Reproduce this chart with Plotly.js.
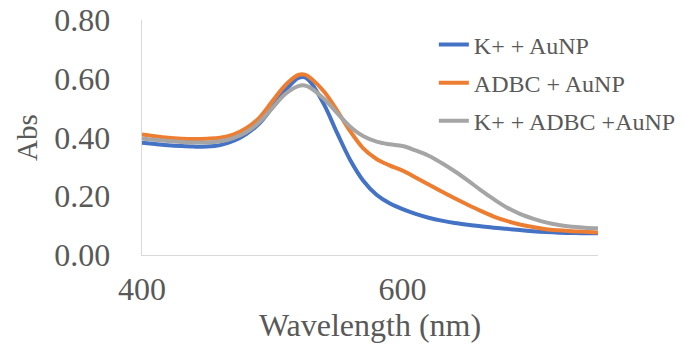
<!DOCTYPE html>
<html>
<head>
<meta charset="utf-8">
<script src="https://cdn.plot.ly/plotly-3.0.1.min.js"></script>
<style>html,body{margin:0;padding:0;background:#fff;}#chart{width:685px;height:346px;}</style>
</head>
<body>
<div id="chart"></div>
<script>
var wavelength = [400,410,420,430,440,450,460,470,480,490,500,510,520,525,530,540,550,560,570,580,590,600,610,620,630,640,650,660,670,680,690,700,710,720,730,740,750];
var kAuNP = [0.382,0.378,0.374,0.371,0.369,0.369,0.374,0.388,0.412,0.447,0.502,0.560,0.603,0.605,0.585,0.510,0.413,0.322,0.252,0.205,0.176,0.156,0.140,0.127,0.117,0.109,0.103,0.098,0.093,0.089,0.085,0.081,0.078,0.076,0.075,0.074,0.074];
var adbcAuNP = [0.410,0.404,0.399,0.396,0.395,0.396,0.399,0.410,0.432,0.467,0.523,0.578,0.613,0.614,0.600,0.555,0.490,0.420,0.362,0.327,0.305,0.287,0.264,0.240,0.216,0.193,0.171,0.150,0.131,0.116,0.104,0.095,0.088,0.084,0.081,0.079,0.077];
var kAdbcAuNP = [0.397,0.392,0.388,0.385,0.383,0.383,0.387,0.398,0.418,0.452,0.500,0.548,0.575,0.577,0.567,0.530,0.482,0.436,0.404,0.386,0.377,0.371,0.356,0.338,0.313,0.285,0.254,0.221,0.190,0.162,0.140,0.124,0.111,0.102,0.096,0.093,0.091];
var seriesNames = ["K+ + AuNP","ADBC + AuNP","K+ + ADBC +AuNP"];
var colors = ["#4472C4","#ED7D31","#A5A5A5"];
var yTicks = [0,0.2,0.4,0.6,0.8];
var xTicks = [400,600];

var font = 'Liberation Serif';
var ys = [kAuNP, adbcAuNP, kAdbcAuNP];
var traces = ys.map(function(y,i){
  return {x: wavelength, y: y, type:'scatter', mode:'lines', name: seriesNames[i],
    legendgroup: 'g'+i,
    line:{color: colors[i], width:4, shape:'spline', smoothing:1}};
});
var layout = {
  width:685, height:346,
  margin:{l:142, r:87, t:20, b:91, autoexpand:false},
  paper_bgcolor:'#fff', plot_bgcolor:'#fff',
  font:{family:font, color:'#595959', size:32},
  showlegend:true,
  legend:{x:0.64, y:0.99, xanchor:'left', yanchor:'top', font:{size:24, family:font, color:'#595959'}, bgcolor:'rgba(0,0,0,0)', tracegroupgap:4, itemwidth:30},
  xaxis:{range:[400,750], tickmode:'array', tickvals:xTicks, ticktext:xTicks.map(String), showgrid:false, zeroline:false,
    showline:true, linecolor:'#D9D9D9', linewidth:1.3, ticks:'', ticklabelstandoff:5, automargin:false,
    tickfont:{size:32, family:font, color:'#595959'},
    title:{text:'Wavelength (nm)', font:{size:32, family:font, color:'#595959'}, standoff:4}},
  yaxis:{range:[0,0.8], tickmode:'array', tickvals:yTicks, ticktext:yTicks.map(function(v){return v.toFixed(2);}), showgrid:false, zeroline:false,
    showline:true, linecolor:'#D9D9D9', linewidth:1.3, ticks:'', ticklabelstandoff:24, automargin:false,
    tickfont:{size:32, family:font, color:'#595959'},
    title:{text:'Abs', font:{size:29, family:font, color:'#595959'}, standoff:8}}
};
Plotly.newPlot('chart', traces, layout, {displayModeBar:false, staticPlot:true});
</script>
</body>
</html>
